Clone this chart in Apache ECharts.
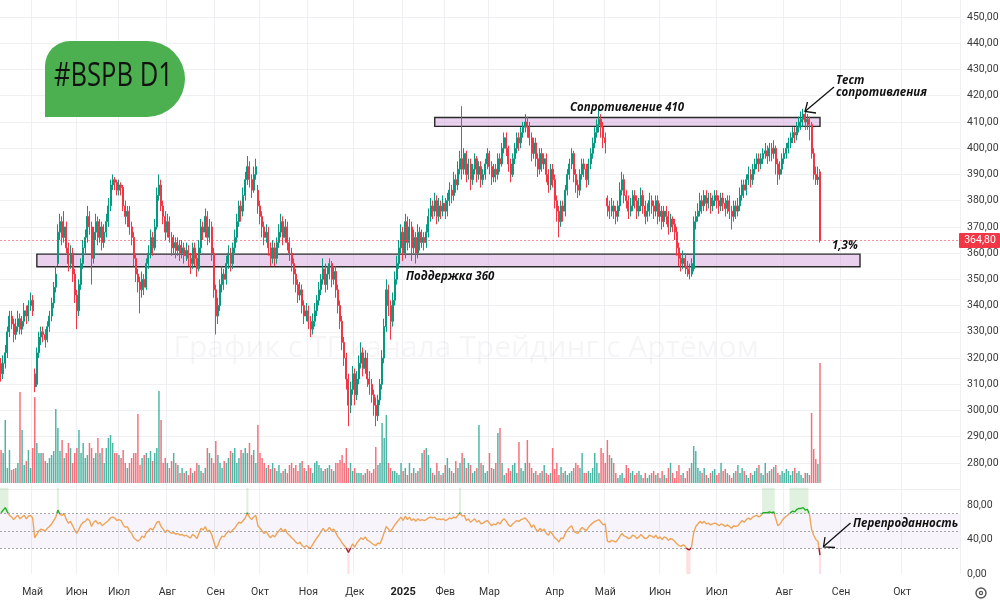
<!DOCTYPE html>
<html>
<head>
<meta charset="utf-8">
<title>BSPB D1</title>
<script src="https://cdn.jsdelivr.net/npm/echarts@6/dist/echarts.min.js"></script>
<style>
  html, body { margin: 0; padding: 0; background: #fff; }
  #main { width: 1000px; height: 604px; }
</style>
</head>
<body>
<div id="main"></div>
<script>
// daily candles: [open, close, low, high]
var ohlc = [
[318,314,311,320],[314,318,312,321],[318,322,316,325],[322,330,320,332],[330,336,328,338],
[336,333,331,338],[333,329,326,335],[329,332,327,335],[332,335,330,338],[335,331,329,337],
[331,334,329,336],[334,338,332,341],[338,336,333,340],[336,340,334,342],[340,342,338,345],
[342,338,336,344],[314,309,307,316],[310,322,309,324],[322,328,320,330],[328,330,325,332],
[330,329,326,332],[329,327,324,331],[327,332,326,334],[332,336,330,338],[336,341,334,343],
[341,347,339,349],[347,352,345,355],[356,368,355,371],[368,372,365,375],[372,366,363,374],
[366,370,364,376],[370,362,360,372],[362,356,353,364],[356,360,354,363],[360,352,349,362],
[352,344,341,354],[344,338,331,346],[338,348,336,350],[348,356,346,358],[356,362,354,365],
[362,366,360,369],[366,374,364,378],[374,370,367,376],[370,358,348,372],[358,368,356,370],
[368,372,365,375],[372,366,363,374],[366,370,364,373],[370,364,361,372],[364,368,362,371],
[368,372,366,375],[372,378,370,381],[378,386,376,388],[386,388,384,390],[388,387,384,389],
[387,384,382,388],[384,386,382,388],[386,385,382,387],[385,378,376,386],[378,374,371,380],
[374,376,370,378],[376,370,367,378],[370,366,363,372],[366,358,355,368],[358,352,349,360],
[352,349,345,354],[349,346,337,351],[346,350,343,353],[350,347,344,352],[347,356,346,358],
[356,360,354,363],[360,366,358,369],[366,362,359,368],[362,370,361,373],[370,382,369,385],
[382,386,380,390],[386,378,376,388],[378,374,371,380],[374,368,365,376],[368,372,366,375],
[372,366,364,374],[366,362,359,368],[362,364,360,367],[364,361,358,366],[361,363,359,366],
[363,360,357,365],[360,362,358,365],[362,359,356,364],[359,361,357,364],[361,358,355,363],
[358,356,352,360],[356,362,354,364],[362,358,355,364],[358,354,351,360],[354,362,353,365],
[362,370,360,373],[370,368,365,372],[368,374,366,377],[374,366,363,376],[366,370,364,373],
[370,360,357,372],[360,346,343,362],[346,336,329,348],[336,340,333,343],[340,348,338,350],
[348,352,345,355],[352,350,346,354],[350,356,348,359],[356,360,354,363],[360,356,353,362],
[356,362,354,364],[362,366,360,369],[366,372,364,375],[372,378,370,380],[378,376,372,380],
[376,382,374,385],[382,388,380,391],[388,393,386,397],[393,388,385,395],[388,384,381,390],
[384,390,383,393],[390,393,388,396],[384,378,375,386],[378,374,371,380],[374,370,366,376],
[370,366,363,372],[366,368,364,371],[368,362,359,370],[362,358,355,364],[358,362,356,365],
[362,358,355,364],[358,364,356,366],[364,368,362,371],[368,372,366,375],[372,366,363,374],
[366,370,364,373],[370,364,361,372],[364,360,357,366],[360,356,353,362],[356,352,348,358],
[352,348,345,354],[348,344,341,350],[344,346,342,349],[346,340,337,348],[340,336,333,342],
[336,338,334,341],[338,334,331,340],[334,331,328,336],[331,334,329,337],[334,338,332,341],
[338,342,336,344],[342,346,340,349],[346,350,344,352],[350,354,348,358],[354,348,345,356],
[348,352,346,355],[352,356,350,358],[356,350,347,357],[350,353,348,355],[353,346,343,355],
[346,340,337,348],[340,334,331,342],[334,326,323,336],[326,320,317,328],[320,312,308,322],
[312,302,294,314],[302,308,299,311],[308,314,306,317],[314,306,302,316],[306,312,304,315],
[312,318,310,321],[318,322,316,326],[322,316,313,324],[316,320,314,323],[320,312,309,322],
[312,310,306,315],[310,306,303,312],[306,302,298,308],[302,298,294,305],[298,304,296,306],
[304,310,302,312],[310,320,308,323],[320,332,318,335],[332,346,330,350],[346,340,336,348],
[340,334,327,342],[334,342,332,345],[342,350,340,353],[350,356,348,359],[356,362,354,365],
[362,368,360,371],[368,360,357,370],[360,372,358,375],[372,364,361,374],[364,370,362,373],
[370,362,357,372],[362,366,360,369],[366,360,356,368],[360,368,358,371],[368,364,361,370],
[364,366,362,369],[366,364,361,368],[364,368,362,371],[368,374,366,377],[374,378,372,381],
[378,376,373,380],[376,380,374,383],[380,374,371,382],[374,378,372,381],[378,376,373,380],
[376,379,374,382],[379,376,373,381],[376,380,374,383],[380,384,378,387],[384,382,379,386],
[382,388,380,391],[388,386,383,390],[386,392,384,395],[392,396,390,399],[396,392,388,416],
[392,398,390,400],[398,390,387,399],[390,394,388,396],[394,388,384,396],[388,392,386,394],
[392,396,390,398],[396,390,387,397],[390,393,388,395],[393,388,385,395],[388,390,386,392],
[390,394,388,396],[394,398,392,400],[398,393,390,399],[393,389,386,395],[389,392,387,394],
[392,390,387,394],[390,396,388,398],[396,394,391,398],[394,400,393,402],[400,404,398,406],
[404,400,397,406],[400,394,391,401],[394,390,387,396],[390,396,389,398],[396,400,394,402],
[400,404,398,406],[404,402,399,406],[402,406,400,408],[406,408,404,410],[408,410,406,413],
[410,408,404,412],[408,404,401,410],[404,398,395,406],[398,402,396,404],[402,396,393,404],
[396,392,389,398],[392,398,390,400],[398,394,391,400],[394,396,392,398],[396,390,387,398],
[390,386,383,392],[386,392,384,394],[392,388,385,394],[388,380,377,390],[380,376,372,382],
[376,372,366,378],[372,378,370,380],[378,376,372,380],[376,384,374,386],[384,390,382,392],
[390,394,388,396],[394,398,392,400],[398,390,387,399],[390,386,383,392],[386,384,381,388],
[384,390,382,392],[390,394,388,396],[394,392,389,396],[392,388,385,394],[388,394,386,396],
[394,398,392,400],[398,402,396,404],[402,406,400,408],[406,409,404,411],[409,411,406,415],
[411,408,404,413],[408,404,400,410],[404,402,398,406],[381,378,374,382],[378,376,373,380],
[376,378,374,381],[378,376,373,380],[376,374,371,378],[374,378,372,380],[378,384,376,387],
[384,388,382,391],[388,382,379,390],[382,380,377,384],[380,376,373,382],[376,378,374,381],
[378,382,376,384],[382,380,377,384],[380,376,373,382],[376,378,374,381],[378,382,376,385],
[382,378,375,384],[378,374,371,380],[374,376,372,379],[376,380,374,383],[380,378,375,382],
[378,376,373,380],[376,380,374,382],[380,374,371,382],[374,376,372,379],[376,372,369,378],
[372,376,370,378],[376,374,371,378],[374,370,367,376],[370,373,368,375],[373,371,368,374],
[371,368,365,373],[368,362,359,370],[362,358,355,364],[358,356,353,360],[356,358,354,361],
[358,355,352,360],[355,354,351,357],[354,352,350,356],[352,356,351,358],[354,372,353,374],
[372,374,369,376],[374,376,372,379],[376,380,374,383],[380,378,375,382],[378,382,376,384],
[382,379,376,384],[379,381,377,383],[381,378,375,383],[378,380,376,382],[380,382,378,384],
[382,380,377,384],[380,378,375,382],[378,381,376,383],[381,379,376,383],[379,377,374,381],
[377,380,375,382],[380,376,373,382],[376,374,369,378],[374,378,372,380],[378,376,373,380],
[376,378,374,381],[378,382,376,385],[382,386,380,388],[386,384,381,388],[384,388,382,390],
[388,390,386,393],[390,388,385,392],[388,392,386,394],[392,394,390,396],[394,396,392,398],
[396,394,391,398],[394,396,392,398],[396,398,394,400],[398,399,396,402],[399,397,394,401],
[397,400,395,402],[400,398,395,402],[398,400,396,403],[400,394,390,401],[394,390,386,396],
[390,392,388,395],[392,396,390,398],[396,398,394,400],[398,400,396,402],[400,402,398,404],
[402,404,400,406],[404,406,402,408],[406,405,402,408],[405,408,403,410],[408,410,406,412],
[410,411,407,414],[411,413,408,415],[413,410,407,414],[410,411,407,413],[411,409,403,412],
[409,398,396,410],[398,390,388,400],[390,388,386,393],[388,389,386,393],[391,364.8,364,392]
];

var volumes = [
33,30,63,15,33,13,14,15,20,91, 53,18,22,33,15,35,86,40,30,30,
30,22,20,25,28,32,74,55,32,43, 25,30,40,35,20,30,35,53,30,40,
25,28,40,35,25,30,45,30,35,20, 35,45,48,40,30,30,28,25,33,20,
15,20,25,30,30,69,18,25,28,30, 25,32,22,30,35,92,63,20,25,20,
15,22,30,20,18,10,15,10,12,8, 15,10,12,20,18,12,10,15,35,30,
25,20,42,28,20,15,22,20,25,32, 30,35,20,25,33,30,35,30,40,28,
33,20,58,30,25,20,15,18,14,20, 15,12,18,10,12,14,10,18,20,15,
18,12,20,22,15,12,18,15,10,20, 22,18,15,12,14,15,18,14,12,20,
20,23,28,20,35,15,20,12,15,10, 10,10,8,10,14,12,10,14,36,18,
20,60,45,68,20,15,12,12,10,8, 20,12,15,8,20,10,15,10,12,15,
30,33,35,28,15,10,8,20,12,8, 10,18,25,15,12,10,22,15,20,30,
25,15,20,18,10,12,15,58,20,18, 10,12,30,15,14,20,50,55,20,8,
10,15,12,18,20,10,41,15,12,20, 43,20,15,10,12,8,10,12,18,10,
8,10,35,14,20,8,16,10,12,8, 10,12,15,20,18,15,30,10,10,12,
10,15,30,20,10,35,30,20,43,28, 25,20,10,5,8,10,5,18,15,10,
12,8,10,12,8,5,10,5,8,10, 12,8,10,5,12,8,5,15,20,10,
5,12,18,8,10,5,12,15,20,37, 32,15,12,10,15,8,5,10,12,14,
8,10,20,12,14,10,8,5,10,12, 18,10,15,12,8,5,10,8,12,15,
18,10,8,20,10,12,14,16,18,10, 8,12,10,14,12,8,12,15,10,12,
8,5,10,10,8,70,34,24,19,120
];

var rsi = [
71,74,77,72,68,66,63,66,68,64, 66,68,64,67,68,65,42,46,50,52,
51,50,53,55,58,62,66,74,69,68, 70,63,59,61,56,51,47,52,57,60,
61,64,62,55,60,62,58,60,56,58, 60,62,65,66,65,62,63,62,57,54,
55,50,47,42,40,38,40,44,42,48, 50,53,51,55,60,61,55,52,48,51,
49,47,48,46,47,45,46,44,45,43, 42,46,44,41,47,53,51,55,49,51,
46,38,30,33,40,44,43,47,50,48, 51,53,57,60,59,62,65,71,66,63,
66,68,56,53,50,47,49,45,42,45, 43,47,50,53,49,52,47,45,42,40,
37,35,37,33,31,33,31,30,34,38, 42,45,49,53,49,51,54,50,52,48,
43,40,36,33,30,25,30,35,31,36, 39,42,40,43,39,38,36,34,33,36,
35,41,48,55,52,49,53,57,60,63, 66,62,67,63,66,62,64,61,64,62,
63,62,63,65,66,65,66,63,64,63, 64,62,63,65,64,66,65,68,71,67,
68,62,64,60,62,64,60,62,58,59, 61,62,59,56,58,57,60,58,62,64,
61,57,55,58,60,62,61,63,64,65, 62,59,54,57,52,49,53,50,52,47,
45,49,46,42,40,37,42,41,47,51, 54,56,50,48,47,51,54,52,50,54,
57,59,61,62,63,60,57,58,38,37, 39,38,37,40,44,47,44,43,41,42,
45,44,41,43,46,43,41,42,45,44, 42,45,41,43,40,43,42,39,41,40,
38,35,33,32,34,32,29,28,32,48, 55,58,61,59,61,58,59,57,58,59,
58,56,58,57,55,57,55,53,56,55, 56,59,62,60,63,65,63,66,67,68,
66,68,71,71,71,72,71,72,64,56, 58,62,65,67,69,71,73,72,75,76,
76,77,74,75,69,52,45,40,38,22
];

// first bar of each month: [slot index, label]
var monthTicks = [
  [15, 'Май'], [36, 'Июн'], [56, 'Июл'], [79, 'Авг'], [102, 'Сен'], [123, 'Окт'],
  [146, 'Ноя'], [168, 'Дек'], [191, '2025'], [211, 'Фев'], [232, 'Мар'], [263, 'Апр'],
  [287, 'Май'], [313, 'Июн'], [340, 'Июл'], [372, 'Авг'], [399, 'Сен'], [428, 'Окт']
];
var totalSlots = 456; // bars + empty space on the right

var supportZone = [354.8, 359.6];      // "Поддержка 360"
var supportSpan = [17, 408];
var resistanceZone = [408.3, 411.7];   // "Сопротивление 410"
var resistanceSpan = [206, 389];

var upColor = '#089981';
var downColor = '#f23645';

var slots = [];
for (var i = 0; i < totalSlots; i++) slots.push(String(i));

var tickMap = {};
monthTicks.forEach(function (t) { tickMap[t[0]] = t[1]; });
function isTick(idx) { return tickMap[idx] !== undefined; }

var lastClose = ohlc[ohlc.length - 1][1];

var volData = volumes.map(function (v, idx) {
  var up = ohlc[idx][1] >= ohlc[idx][0];
  return { value: v, itemStyle: { color: up ? 'rgba(8,153,129,0.72)' : 'rgba(242,54,69,0.72)' } };
});

// RSI zone highlights
var obBase = rsi.map(function (v) { return v > 70 ? 70 : '-'; });
var obTop = rsi.map(function (v) { return v > 70 ? 30 : '-'; });
var osBar = rsi.map(function (v) { return v < 30 ? 30 : '-'; });

function fmt(v) { return v.toFixed(2).replace('.', ','); }

function xAxisFor(gridIndex, showLabels) {
  return {
    type: 'category', gridIndex: gridIndex, data: slots, boundaryGap: true,
    axisLine: { show: false }, axisTick: { show: false },
    axisLabel: showLabels ? {
      show: true, interval: function (idx) { return isTick(idx); },
      margin: 13, color: '#333', fontSize: 10.5, fontFamily: 'Roboto',
      formatter: function (val) {
        var t = tickMap[+val];
        if (t === '2025') return '{b|2025}';
        return t || '';
      },
      rich: { b: { fontWeight: 'bold', fontSize: 11, color: '#222', fontFamily: 'Roboto' } }
    } : { show: false },
    splitLine: {
      show: gridIndex !== 1,
      interval: function (idx) { return isTick(idx); },
      lineStyle: { color: '#eef0f3', width: 1 }
    }
  };
}

var chart = echarts.init(document.getElementById('main'), null, { renderer: 'canvas' });

var option = {
  animation: false,
  backgroundColor: '#ffffff',
  grid: [
    { left: 0, right: 40, top: -9.2, bottom: 114.8, containLabel: false, outerBoundsMode: 'none' },
    { left: 0, right: 40, top: 333, bottom: 121, containLabel: false, outerBoundsMode: 'none' },
    { left: 0, right: 40, top: 487.75, bottom: 30, containLabel: false, outerBoundsMode: 'none' }
  ],
  xAxis: [xAxisFor(0, false), xAxisFor(1, false), xAxisFor(2, true)],
  yAxis: [
    {
      gridIndex: 0, type: 'value', position: 'right', min: 270, max: 460, interval: 10,
      axisLine: { show: false }, axisTick: { show: false },
      splitLine: { lineStyle: { color: '#eef0f3' } },
      axisLabel: {
        margin: 7, fontSize: 10.5, color: '#3a3a3a', fontFamily: 'Roboto',
        formatter: function (v) { return (v <= 270 || v >= 460) ? '' : fmt(v); }
      }
    },
    { gridIndex: 1, type: 'value', min: 0, max: 150, show: false },
    {
      gridIndex: 2, type: 'value', position: 'right', min: 0, max: 100, interval: 40,
      axisLine: { show: false }, axisTick: { show: false }, splitLine: { show: false },
      axisLabel: {
        margin: 7, fontSize: 10.5, color: '#3a3a3a', fontFamily: 'Roboto',
        formatter: function (v) { return v > 80 ? '' : fmt(v); }
      }
    }
  ],
  visualMap: {
    type: 'piecewise', show: false, seriesIndex: 2, dimension: 1,
    pieces: [
      { lt: 30, color: '#b3192b' },
      { gte: 30, lte: 70, color: '#efa458' },
      { gt: 70, color: '#22b022' }
    ]
  },
  series: [
    {
      type: 'candlestick', xAxisIndex: 0, yAxisIndex: 0, data: ohlc, barWidth: '72%',
      itemStyle: { color: upColor, color0: downColor, borderColor: upColor, borderColor0: downColor, borderWidth: 1 },
      markArea: {
        silent: true,
        itemStyle: { color: 'rgba(206,147,216,0.42)', borderColor: '#2a2a2a', borderWidth: 1.4 },
        label: { show: false },
        data: [
          [{ xAxis: supportSpan[0], yAxis: supportZone[0] }, { xAxis: supportSpan[1], yAxis: supportZone[1] }],
          [{ xAxis: resistanceSpan[0], yAxis: resistanceZone[0] }, { xAxis: resistanceSpan[1], yAxis: resistanceZone[1] }]
        ]
      },
      markLine: {
        silent: true, symbol: ['none', 'none'], label: { show: false },
        lineStyle: { color: 'rgba(242,54,69,0.55)', type: [2, 2], width: 1 },
        data: [{ yAxis: lastClose }]
      }
    },
    {
      type: 'bar', xAxisIndex: 1, yAxisIndex: 1, data: volData, barWidth: '70%', silent: true
    },
    {
      type: 'line', xAxisIndex: 2, yAxisIndex: 2, data: rsi, showSymbol: false, silent: true,
      lineStyle: { width: 1.4 },
      markArea: {
        silent: true,
        itemStyle: { color: 'rgba(126,87,194,0.06)' },
        data: [[{ yAxis: 30 }, { yAxis: 70 }]]
      },
      markLine: {
        silent: true, symbol: ['none', 'none'], label: { show: false },
        lineStyle: { color: '#a8a8a8', type: [2, 2], width: 1 },
        data: [{ yAxis: 70 }, { yAxis: 50 }, { yAxis: 30 }]
      }
    },
    {
      type: 'bar', xAxisIndex: 2, yAxisIndex: 2, stack: 'ob', data: obBase, silent: true,
      barWidth: '100%', itemStyle: { color: 'rgba(0,0,0,0)' }
    },
    {
      type: 'bar', xAxisIndex: 2, yAxisIndex: 2, stack: 'ob', data: obTop, silent: true,
      barWidth: '100%', itemStyle: { color: 'rgba(76,175,80,0.18)' }
    },
    {
      type: 'bar', xAxisIndex: 2, yAxisIndex: 2, data: osBar, silent: true,
      barWidth: '100%', barGap: '-100%', itemStyle: { color: 'rgba(242,54,69,0.16)' }
    }
  ]
};

chart.setOption(option);

// overlay texts and shapes
var lastY = chart.convertToPixel({ yAxisIndex: 0 }, lastClose);
var noteFont = 'italic bold 11.5px "Open Sans"';

chart.setOption({
  graphic: [
    {
      type: 'text', z: 0, x: 466, y: 348,
      style: { text: 'График с ТГ канала Трейдинг с Артёмом', font: '30px "Open Sans"', fill: 'rgba(0,0,0,0.04)', align: 'center', verticalAlign: 'middle' }
    },
    {
      type: 'rect', z: 100, shape: { x: 45, y: 41, width: 140, height: 76, r: [25, 38, 38, 0] },
      style: { fill: '#4caf50' }
    },
    {
      type: 'text', z: 101, x: 54, y: 77, scaleX: 0.8,
      style: { text: '#BSPB D1', font: '32px "Open Sans"', fill: '#111', align: 'left', verticalAlign: 'middle' }
    },
    { type: 'text', z: 100, x: 570, y: 108, style: { text: 'Сопротивление 410', font: noteFont, fill: '#111', verticalAlign: 'middle' } },
    { type: 'text', z: 100, x: 406, y: 277, style: { text: 'Поддержка 360', font: noteFont, fill: '#111', verticalAlign: 'middle' } },
    { type: 'text', z: 100, x: 832, y: 246, style: { text: '1,3%', font: noteFont, fill: '#111', verticalAlign: 'middle' } },
    { type: 'text', z: 100, x: 836, y: 81, style: { text: 'Тест', font: noteFont, fill: '#111', verticalAlign: 'middle' } },
    { type: 'text', z: 100, x: 836, y: 93, style: { text: 'сопротивления', font: noteFont, fill: '#111', verticalAlign: 'middle' } },
    { type: 'text', z: 100, x: 853, y: 524, style: { text: 'Перепроданность', font: noteFont, fill: '#111', verticalAlign: 'middle' } },
    // arrows
    { type: 'line', z: 100, shape: { x1: 834, y1: 87, x2: 805.5, y2: 111 }, style: { stroke: '#111', lineWidth: 1.3 } },
    { type: 'polyline', z: 100, shape: { points: [[816, 113], [805, 111.5], [807.5, 102]] }, style: { stroke: '#111', lineWidth: 1.3, fill: null } },
    { type: 'line', z: 100, shape: { x1: 850.5, y1: 523, x2: 823.5, y2: 546.5 }, style: { stroke: '#111', lineWidth: 1.3 } },
    { type: 'polyline', z: 100, shape: { points: [[835, 547.5], [823.5, 547], [825, 537]] }, style: { stroke: '#111', lineWidth: 1.3, fill: null } },
    // last price tag
    { type: 'rect', z: 100, shape: { x: 959, y: lastY - 7.5, width: 41, height: 15, r: 1 }, style: { fill: downColor } },
    { type: 'text', z: 101, x: 980, y: lastY, style: { text: fmt(lastClose), font: '10.5px Roboto', fill: '#fff', align: 'center', verticalAlign: 'middle' } },
    // settings gear
    { type: 'circle', z: 100, shape: { cx: 981, cy: 593, r: 5 }, style: { stroke: '#555', lineWidth: 1.4, fill: null } },
    { type: 'circle', z: 100, shape: { cx: 981, cy: 593, r: 1.6 }, style: { stroke: '#555', lineWidth: 1.2, fill: null } }
  ]
});
</script>
</body>
</html>
